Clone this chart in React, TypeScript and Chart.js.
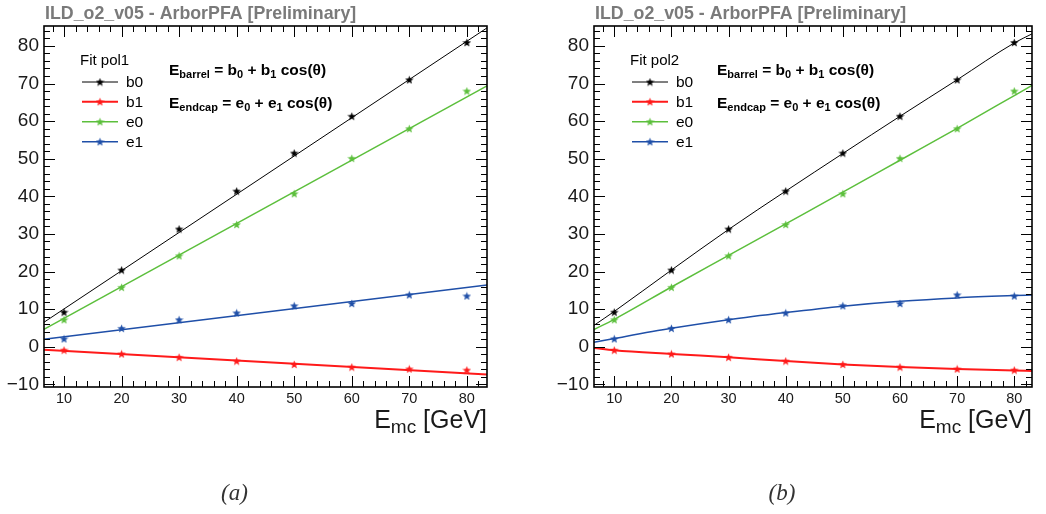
import React, { useEffect, useRef } from "react";
import { Chart, registerables } from "chart.js";

Chart.register(...registerables);

// ---- data ----
const energies = [10, 20, 30, 40, 50, 60, 70, 80];
const b0Values = [9.2, 20.4, 31.3, 41.4, 51.5, 61.3, 71.0, 80.9];
const b1Values = [-0.9, -1.9, -2.8, -3.8, -4.7, -5.4, -5.9, -6.2];
const e0Values = [7.2, 15.8, 24.2, 32.5, 40.7, 50.1, 58.0, 68.0];
const e1Values = [2.1, 4.9, 7.2, 9.0, 10.9, 11.5, 13.8, 13.5];

// pol1 fit curves (panel a)
const fitXA = [6.5, 83.5];
const b0FitA = [6.5, 84.8];
const b1FitA = [-0.8, -7.4];
const e0FitA = [4.6, 69.4];
const e1FitA = [2.0, 16.4];

// pol2 fit curves (panel b)
const fitXB = [6.45, 10, 20, 30, 40, 50, 60, 70, 80, 83.1];
const b0FitB = [5.7, 9.4, 20.4, 31.2, 41.4, 51.4, 61.3, 71.0, 80.8, 83.2];
const b1FitB = [-0.3, -0.9, -1.9, -2.8, -3.8, -4.7, -5.4, -5.9, -6.3, -6.45];
const e0FitB = [4.6, 7.3, 15.9, 24.3, 32.7, 41.1, 49.6, 58.1, 66.8, 69.5];
const e1FitB = [1.2, 2.2, 4.9, 7.2, 9.1, 10.8, 12.1, 13.0, 13.6, 13.75];

const seriesNames = ["b0", "b1", "e0", "e1"];
const seriesColors = ["#000000", "#ff1a1a", "#5cbf3c", "#1f4fa8"];
const fitWidths = [1, 2, 1.5, 1.5];

const xTicks = [10, 20, 30, 40, 50, 60, 70, 80];
const yTicks = [-10, 0, 10, 20, 30, 40, 50, 60, 70, 80];
const yTickLabels = ["\u221210", "0", "10", "20", "30", "40", "50", "60", "70", "80"];
const xTickLabels = ["10", "20", "30", "40", "50", "60", "70", "80"];

const titleText = "ILD_o2_v05 - ArborPFA [Preliminary]";

function makeStar(color: string, size: number) {
  const c = document.createElement("canvas");
  c.width = size;
  c.height = size;
  const ctx = c.getContext("2d")!;
  const cx = size / 2, cy = size / 2 + 0.4;
  const R = size / 2, r = R * 0.42;
  ctx.beginPath();
  for (let i = 0; i < 10; i++) {
    const ang = -Math.PI / 2 + (i * Math.PI) / 5;
    const rad = i % 2 === 0 ? R : r;
    const px = cx + rad * Math.cos(ang);
    const py = cy + rad * Math.sin(ang);
    if (i === 0) ctx.moveTo(px, py);
    else ctx.lineTo(px, py);
  }
  ctx.closePath();
  ctx.fillStyle = color;
  ctx.fill();
  return c;
}

type Part = { t: string; sub?: boolean };

function richWidth(ctx: CanvasRenderingContext2D, parts: Part[], size: number, subSize: number, weight: string) {
  let w = 0;
  for (const p of parts) {
    ctx.font = `${weight} ${p.sub ? subSize : size}px "Liberation Sans", Arial, sans-serif`;
    w += ctx.measureText(p.t).width;
  }
  return w;
}

function drawRich(ctx: CanvasRenderingContext2D, parts: Part[], x: number, y: number, size: number, subSize: number, subDrop: number, weight: string) {
  let cx = x;
  ctx.textBaseline = "alphabetic";
  ctx.textAlign = "left";
  for (const p of parts) {
    ctx.font = `${weight} ${p.sub ? subSize : size}px "Liberation Sans", Arial, sans-serif`;
    ctx.fillText(p.t, cx, p.sub ? y + subDrop : y);
    cx += ctx.measureText(p.t).width;
  }
}

function makeOverlay(legendTitle: string, caption: string, formulaOffset: number) {
  return {
    id: "rootStyle",
    afterDraw(chart: any) {
      const ctx: CanvasRenderingContext2D = chart.ctx;
      const xs = chart.scales.x;
      const ys = chart.scales.y;
      const { left, right, top, bottom } = chart.chartArea;
      ctx.save();
      // frame
      ctx.strokeStyle = "#000";
      ctx.lineWidth = 1.6;
      ctx.strokeRect(left, top, right - left, bottom - top);
      // ticks
      ctx.lineWidth = 1;
      ctx.beginPath();
      const majLen = 11, minLen = 6;
      for (let v = 6; v <= 84; v += 2) {
        const px = Math.round(xs.getPixelForValue(v)) + 0.5;
        if (px < left || px > right) continue;
        const len = xTicks.includes(v) ? majLen : minLen;
        ctx.moveTo(px, bottom);
        ctx.lineTo(px, bottom - len);
        ctx.moveTo(px, top);
        ctx.lineTo(px, top + len);
      }
      for (let v = -10; v <= 84; v += 2) {
        const py = Math.round(ys.getPixelForValue(v)) + 0.5;
        if (py < top || py > bottom) continue;
        const len = yTicks.includes(v) ? majLen : minLen;
        ctx.moveTo(left, py);
        ctx.lineTo(left + len, py);
        ctx.moveTo(right, py);
        ctx.lineTo(right - len, py);
      }
      ctx.stroke();

      // title
      ctx.fillStyle = "#7a7a7a";
      ctx.font = 'bold 17.8px "Liberation Sans", Arial, sans-serif';
      ctx.textAlign = "left";
      ctx.textBaseline = "alphabetic";
      ctx.fillText(titleText, left + 1, 18.5);

      // legend
      ctx.fillStyle = "#000";
      ctx.font = '15px "Liberation Sans", Arial, sans-serif';
      ctx.fillText(legendTitle, left + 36, 65);
      const entryY = [82, 101.7, 121.7, 141.7];
      const stars = seriesColors.map((c) => makeStar(c, 9));
      seriesNames.forEach((name, i) => {
        const yy = entryY[i];
        ctx.strokeStyle = seriesColors[i];
        ctx.lineWidth = fitWidths[i];
        ctx.beginPath();
        ctx.moveTo(left + 38, yy);
        ctx.lineTo(left + 74, yy);
        ctx.stroke();
        ctx.drawImage(stars[i], left + 56 - 4.5, yy - 4.5);
        ctx.fillStyle = "#000";
        ctx.font = '15.5px "Liberation Sans", Arial, sans-serif';
        ctx.textBaseline = "middle";
        ctx.fillText(name, left + 82, yy + 1);
      });

      // formulas
      ctx.fillStyle = "#000";
      drawRich(ctx, [{ t: "E" }, { t: "barrel", sub: true }, { t: " = b" }, { t: "0", sub: true }, { t: " + b" }, { t: "1", sub: true }, { t: " cos(\u03b8)" }], left + formulaOffset, 75, 15.5, 11, 3, "bold");
      drawRich(ctx, [{ t: "E" }, { t: "endcap", sub: true }, { t: " = e" }, { t: "0", sub: true }, { t: " + e" }, { t: "1", sub: true }, { t: " cos(\u03b8)" }], left + formulaOffset, 108, 15.5, 11, 3, "bold");

      // x-axis title
      const xParts: Part[] = [{ t: "E" }, { t: "mc", sub: true }, { t: " [GeV]" }];
      const w = richWidth(ctx, xParts, 25, 19, "normal");
      ctx.fillStyle = "#1a1a1a";
      drawRich(ctx, xParts, right - w, 428, 25, 19, 5, "normal");

      // caption
      ctx.fillStyle = "#333";
      ctx.font = 'italic 23px "Liberation Serif", "DejaVu Serif", serif';
      ctx.textAlign = "center";
      ctx.textBaseline = "alphabetic";
      ctx.fillText(caption, (left + right) / 2 - 31, 500);
      ctx.restore();
    },
  };
}

function buildConfig(panel: "a" | "b") {
  const fitX = panel === "a" ? fitXA : fitXB;
  const fits = panel === "a" ? [b0FitA, b1FitA, e0FitA, e1FitA] : [b0FitB, b1FitB, e0FitB, e1FitB];
  const values = [b0Values, b1Values, e0Values, e1Values];
  const datasets: any[] = [];
  fits.forEach((f, i) => {
    datasets.push({
      label: seriesNames[i] + " fit",
      data: fitX.map((x, k) => ({ x, y: f[k] })),
      showLine: true,
      borderColor: seriesColors[i],
      borderWidth: fitWidths[i],
      pointRadius: 0,
      tension: panel === "b" ? 0.4 : 0,
      cubicInterpolationMode: panel === "b" ? "monotone" : "default",
      clip: false,
      order: 2,
    });
  });
  values.forEach((vals, i) => {
    datasets.push({
      label: seriesNames[i],
      data: energies.map((x, k) => ({ x, y: vals[k] })),
      showLine: false,
      pointStyle: makeStar(seriesColors[i], 9),
      pointRadius: 4.5,
      order: 1,
    });
  });
  const xMin = panel === "a" ? 6.52 : 6.45;
  const xMax = panel === "a" ? 83.5 : 83.1;
  return {
    type: "scatter",
    data: { datasets },
    options: {
      animation: false,
      responsive: false,
      maintainAspectRatio: false,
      layout: { padding: panel === "a" ? { left: 0, right: 36, top: 26, bottom: 0 } : { left: 27, right: 14, top: 26, bottom: 0 } },
      plugins: { legend: { display: false }, tooltip: { enabled: false }, title: { display: false } },
      scales: {
        x: {
          type: "linear",
          min: xMin,
          max: xMax,
          grid: { display: false, drawTicks: false },
          border: { display: false },
          afterBuildTicks: (s: any) => {
            s.ticks = xTicks.map((v) => ({ value: v }));
          },
          afterFit: (s: any) => {
            s.height = 127;
          },
          ticks: {
            autoSkip: false,
            maxRotation: 0,
            padding: 3,
            color: "#1a1a1a",
            font: { family: '"Liberation Sans", Arial, sans-serif', size: 14.5 },
            callback: (v: any) => {
              const idx = xTicks.indexOf(Number(v));
              return idx >= 0 ? xTickLabels[idx] : "";
            },
          },
        },
        y: {
          type: "linear",
          min: -10.7,
          max: 85.3,
          grid: { display: false, drawTicks: false },
          border: { display: false },
          afterBuildTicks: (s: any) => {
            s.ticks = yTicks.map((v) => ({ value: v }));
          },
          afterFit: (s: any) => {
            s.width = 44;
          },
          ticks: {
            autoSkip: false,
            padding: 5,
            color: "#1a1a1a",
            font: { family: '"Liberation Sans", Arial, sans-serif', size: 19 },
            callback: (v: any) => {
              const idx = yTicks.indexOf(Number(v));
              return idx >= 0 ? yTickLabels[idx] : "";
            },
          },
        },
      },
    },
    plugins: [makeOverlay(panel === "a" ? "Fit pol1" : "Fit pol2", panel === "a" ? "(a)" : "(b)", panel === "a" ? 125 : 123)],
  };
}

function Panel({ panel, left }: { panel: "a" | "b"; left: number }) {
  const ref = useRef<HTMLCanvasElement>(null);
  useEffect(() => {
    if (!ref.current) return;
    const chart = new Chart(ref.current, buildConfig(panel) as any);
    return () => chart.destroy();
  }, [panel]);
  return (
    <canvas
      ref={ref}
      width={523}
      height={514}
      style={{ position: "absolute", left, top: 0, width: 523, height: 514 }}
    />
  );
}

export default function App() {
  return (
    <div style={{ position: "absolute", left: 0, top: 0, width: 1046, height: 514, background: "#fff" }}>
      <Panel panel="a" left={0} />
      <Panel panel="b" left={523} />
    </div>
  );
}
